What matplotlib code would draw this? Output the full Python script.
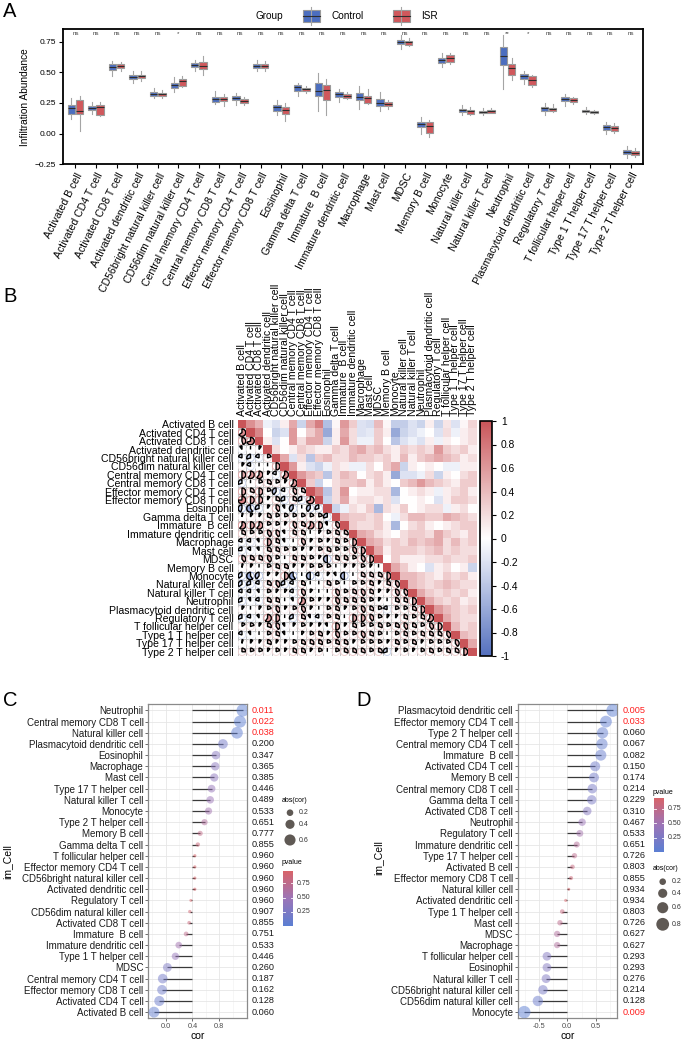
import numpy as np
import matplotlib.pyplot as plt
from matplotlib.patches import Rectangle, Wedge, Circle
from matplotlib.colors import LinearSegmentedColormap, Normalize
from matplotlib.cm import ScalarMappable
import matplotlib.transforms as mtrans

plt.rcParams['font.family'] = ['Liberation Sans', 'DejaVu Sans']

W, H = 685, 1040

cells = ["Activated B cell", "Activated CD4 T cell", "Activated CD8 T cell", "Activated dendritic cell",
         "CD56bright natural killer cell", "CD56dim natural killer cell", "Central memory CD4 T cell",
         "Central memory CD8 T cell", "Effector memory CD4 T cell", "Effector memory CD8 T cell",
         "Eosinophil", "Gamma delta T cell", "Immature  B cell", "Immature dendritic cell", "Macrophage",
         "Mast cell", "MDSC", "Memory B cell", "Monocyte", "Natural killer cell", "Natural killer T cell",
         "Neutrophil", "Plasmacytoid dendritic cell", "Regulatory T cell", "T follicular helper cell",
         "Type 1 T helper cell", "Type 17 T helper cell", "Type 2 T helper cell"]

# ---- panel A: box statistics per cell type ----
ctrl_lo = [0.117, 0.16, 0.47, 0.416, 0.29, 0.34, 0.51, 0.24, 0.23, 0.51, 0.15, 0.31, 0.185, 0.26,
           0.2, 0.185, 0.693, 0.0, 0.546, 0.152, 0.152, 0.367, 0.402, 0.152, 0.228, 0.16, -0.003, -0.2]
ctrl_q1 = [0.158, 0.193, 0.52, 0.443, 0.307, 0.37, 0.546, 0.26, 0.27, 0.538, 0.188, 0.35, 0.307, 0.302,
           0.274, 0.226, 0.727, 0.054, 0.576, 0.177, 0.166, 0.562, 0.448, 0.188, 0.264, 0.177, 0.033, -0.166]
ctrl_med = [0.207, 0.21, 0.546, 0.465, 0.323, 0.394, 0.56, 0.283, 0.29, 0.554, 0.215, 0.378, 0.35, 0.32,
            0.30, 0.253, 0.745, 0.076, 0.6, 0.193, 0.177, 0.636, 0.467, 0.207, 0.283, 0.188, 0.054, -0.147]
ctrl_q3 = [0.234, 0.225, 0.565, 0.478, 0.34, 0.416, 0.573, 0.296, 0.31, 0.57, 0.231, 0.394, 0.41, 0.337,
           0.33, 0.28, 0.76, 0.095, 0.62, 0.204, 0.188, 0.704, 0.486, 0.22, 0.3, 0.196, 0.068, -0.133]
ctrl_hi = [0.293, 0.255, 0.595, 0.513, 0.37, 0.465, 0.6, 0.348, 0.33, 0.6, 0.275, 0.41, 0.49, 0.36,
           0.39, 0.337, 0.8, 0.133, 0.657, 0.23, 0.212, 0.8, 0.513, 0.25, 0.32, 0.215, 0.098, -0.098]

isr_lo = [0.02, 0.145, 0.51, 0.43, 0.293, 0.378, 0.48, 0.228, 0.23, 0.51, 0.106, 0.33, 0.152, 0.28,
          0.24, 0.2, 0.71, -0.027, 0.565, 0.152, 0.166, 0.435, 0.378, 0.174, 0.24, 0.16, 0.008, -0.188]
isr_q1 = [0.158, 0.152, 0.538, 0.45, 0.307, 0.39, 0.527, 0.264, 0.247, 0.538, 0.163, 0.348, 0.275, 0.293,
          0.253, 0.226, 0.723, 0.008, 0.587, 0.163, 0.171, 0.48, 0.394, 0.182, 0.258, 0.166, 0.024, -0.177]
isr_med = [0.185, 0.215, 0.554, 0.467, 0.32, 0.432, 0.555, 0.285, 0.265, 0.554, 0.19, 0.367, 0.356, 0.31,
           0.288, 0.242, 0.745, 0.06, 0.615, 0.185, 0.185, 0.533, 0.44, 0.2, 0.274, 0.177, 0.043, -0.16]
isr_q3 = [0.275, 0.234, 0.565, 0.48, 0.33, 0.446, 0.58, 0.3, 0.283, 0.565, 0.217, 0.375, 0.40, 0.32,
          0.31, 0.258, 0.755, 0.095, 0.64, 0.196, 0.196, 0.568, 0.467, 0.212, 0.288, 0.185, 0.065, -0.139]
isr_hi = [0.31, 0.26, 0.587, 0.51, 0.356, 0.467, 0.633, 0.323, 0.296, 0.59, 0.247, 0.389, 0.445, 0.342,
          0.36, 0.275, 0.78, 0.11, 0.66, 0.215, 0.207, 0.62, 0.478, 0.24, 0.3, 0.19, 0.09, -0.12]

sig = ["ns"] * 28
sig[5] = "*"
sig[21] = "**"
sig[22] = "*"

# ---- panel B: correlation matrix, upper triangle rows ----
corr_upper = [
    [0.65, 0.45, -0.1, -0.2, 0.1, 0.5, -0.3, 0.5, 0.75, -0.45, 0.05, 0.6, 0.3, -0.2, -0.25, 0.4, 0.05,
     -0.35, -0.35, -0.2, -0.3, 0.1, -0.3, 0.15, -0.2, 0.05, 0.25],
    [0.7, 0.0, -0.3, -0.2, 0.6, 0.0, 0.3, 0.5, -0.6, 0.1, 0.5, 0.2, -0.2, -0.15, 0.3, 0.1, -0.6, -0.3,
     -0.2, -0.1, 0.0, -0.2, 0.2, -0.1, 0.1, 0.2],
    [0.1, -0.2, 0.0, 0.6, 0.2, 0.5, 0.5, -0.3, 0.1, 0.6, 0.2, -0.1, -0.1, 0.3, 0.0, -0.4, -0.2, -0.1,
     -0.2, 0.1, -0.1, 0.1, 0.0, 0.1, 0.2],
    [0.2, 0.0, 0.1, 0.3, 0.2, 0.1, 0.1, 0.3, 0.2, 0.4, 0.5, 0.3, 0.4, 0.2, 0.1, 0.3, 0.2, 0.3, 0.2, 0.6,
     0.3, 0.2, 0.3, 0.1],
    [0.5, -0.2, 0.2, -0.4, 0.3, 0.4, 0.2, 0.2, 0.4, 0.3, 0.3, 0.2, 0.3, 0.1, 0.4, 0.1, 0.3, 0.4, 0.5,
     0.4, 0.3, 0.1, 0.2],
    [0.6, 0.1, -0.2, -0.3, -0.1, 0.2, 0.1, -0.1, -0.1, 0.2, 0.0, 0.3, 0.5, -0.3, 0.1, 0.0, 0.1, 0.0,
     -0.1, -0.1, 0.1, 0.1],
    [0.6, 0.4, 0.3, -0.4, 0.2, 0.4, 0.3, 0.0, 0.2, 0.3, 0.1, -0.6, -0.2, -0.2, -0.1, 0.2, -0.3, 0.1,
     0.0, 0.2, 0.3],
    [0.3, -0.3, 0.0, 0.2, 0.3, 0.3, 0.4, 0.1, 0.3, 0.1, 0.0, 0.3, 0.4, 0.6, 0.4, 0.3, 0.2, 0.1, 0.3, 0.3],
    [0.7, -0.4, 0.2, 0.6, 0.0, 0.1, 0.1, 0.2, 0.2, -0.5, 0.0, 0.1, 0.2, 0.1, -0.1, 0.1, 0.2, 0.3, 0.1],
    [-0.3, 0.2, 0.5, 0.1, 0.2, 0.2, 0.1, 0.2, -0.2, 0.0, 0.0, 0.1, 0.0, -0.2, 0.1, 0.3, 0.3, 0.2],
    [-0.3, -0.1, 0.2, 0.1, 0.3, -0.5, 0.2, 0.1, 0.3, 0.0, 0.1, 0.2, 0.2, -0.1, 0.1, 0.2, 0.0],
    [0.4, 0.3, 0.3, 0.2, 0.3, 0.0, -0.1, 0.2, 0.4, 0.4, 0.3, 0.3, 0.5, 0.4, 0.3, 0.2],
    [0.3, 0.2, 0.2, 0.3, 0.1, -0.5, 0.0, 0.2, 0.3, 0.1, 0.0, 0.1, 0.2, 0.3, 0.3],
    [0.5, 0.4, 0.2, 0.1, 0.0, 0.2, 0.3, 0.3, 0.2, 0.5, 0.3, 0.2, 0.1, 0.3],
    [0.5, 0.4, 0.2, 0.3, 0.2, 0.4, 0.3, 0.4, 0.5, 0.2, 0.4, 0.2, 0.3],
    [0.5, 0.1, 0.3, 0.3, 0.3, 0.2, 0.3, 0.4, 0.2, 0.3, 0.2, 0.2],
    [0.0, 0.3, 0.1, 0.1, 0.1, 0.2, 0.2, 0.3, 0.2, 0.2, 0.3],
    [0.5, 0.3, 0.1, 0.0, -0.2, 0.1, 0.2, 0.0, 0.1, -0.3],
    [0.4, 0.4, 0.3, 0.2, 0.1, 0.3, 0.2, 0.3, 0.1],
    [0.4, 0.3, 0.2, 0.3, 0.4, 0.3, 0.2, 0.2],
    [0.5, 0.3, 0.2, 0.3, 0.2, 0.3, 0.1],
    [0.5, 0.3, 0.2, 0.3, 0.1, 0.2],
    [0.6, 0.4, 0.3, 0.2, 0.3],
    [0.5, 0.3, 0.2, 0.2],
    [0.4, 0.2, 0.3],
    [0.4, 0.3],
    [0.5],
]

# ---- panel C: lollipop (x as read on the printed axis; stems start at 0.4) ----
c_cells = ["Neutrophil", "Central memory CD8 T cell", "Natural killer cell", "Plasmacytoid dendritic cell",
           "Eosinophil", "Macrophage", "Mast cell", "Type 17 T helper cell", "Natural killer T cell",
           "Monocyte", "Type 2 T helper cell", "Memory B cell", "Gamma delta T cell",
           "T follicular helper cell", "Effector memory CD4 T cell", "CD56bright natural killer cell",
           "Activated dendritic cell", "Regulatory T cell", "CD56dim natural killer cell",
           "Activated CD8 T cell", "Immature  B cell", "Immature dendritic cell", "Type 1 T helper cell",
           "MDSC", "Central memory CD4 T cell", "Effector memory CD8 T cell", "Activated CD4 T cell",
           "Activated B cell"]
c_x = [1.15, 1.11, 1.065, 0.855, 0.75, 0.74, 0.725, 0.685, 0.665, 0.64, 0.58, 0.515, 0.48, 0.435,
       0.435, 0.435, 0.435, 0.375, 0.36, 0.35, 0.305, 0.195, 0.145, 0.025, -0.045, -0.055, -0.095, -0.175]
c_p = [0.011, 0.022, 0.038, 0.200, 0.347, 0.365, 0.385, 0.446, 0.489, 0.533, 0.651, 0.777, 0.855, 0.960,
       0.960, 0.960, 0.960, 0.960, 0.907, 0.855, 0.751, 0.533, 0.446, 0.260, 0.187, 0.162, 0.128, 0.060]
c_base = 0.4

# ---- panel D ----
d_cells = ["Plasmacytoid dendritic cell", "Effector memory CD4 T cell", "Type 2 T helper cell",
           "Central memory CD4 T cell", "Immature  B cell", "Activated CD4 T cell", "Memory B cell",
           "Central memory CD8 T cell", "Gamma delta T cell", "Activated CD8 T cell", "Neutrophil",
           "Regulatory T cell", "Immature dendritic cell", "Type 17 T helper cell", "Activated B cell",
           "Effector memory CD8 T cell", "Natural killer cell", "Activated dendritic cell",
           "Type 1 T helper cell", "Mast cell", "MDSC", "Macrophage", "T follicular helper cell",
           "Eosinophil", "Natural killer T cell", "CD56bright natural killer cell",
           "CD56dim natural killer cell", "Monocyte"]
d_x = [0.80, 0.68, 0.62, 0.61, 0.59, 0.49, 0.47, 0.44, 0.43, 0.35, 0.26, 0.22, 0.165, 0.125, 0.09,
       0.065, 0.025, -0.03, -0.09, -0.13, -0.18, -0.18, -0.36, -0.36, -0.375, -0.43, -0.52, -0.76]
d_p = [0.005, 0.033, 0.060, 0.067, 0.082, 0.150, 0.174, 0.214, 0.229, 0.310, 0.467, 0.533, 0.651, 0.726,
       0.803, 0.855, 0.934, 0.934, 0.803, 0.726, 0.627, 0.627, 0.293, 0.293, 0.276, 0.214, 0.128, 0.009]
d_base = 0.0

BLUE = '#4C6EBF'
RED = '#D0585C'
corr_cmap = LinearSegmentedColormap.from_list('corr', ['#5470BE', '#FFFFFF', '#C95559'])
p_cmap = LinearSegmentedColormap.from_list('pv', ['#5C7FD3', '#9C75B8', '#D8646A'])


def px_axes(l, t, r, b):
    return fig.add_axes([l / W, 1 - b / H, (r - l) / W, (b - t) / H])


def dot_px(v):
    return np.sqrt(3.5 + 200 * np.abs(v))


fig = plt.figure(figsize=(W / 100, H / 100), dpi=100)

# ================= A =================
axA = px_axes(62.7, 29.3, 643.3, 164.3)
pos = np.arange(len(cells))


def make_stats(lo, q1, med, q3, hi):
    return [dict(whislo=a, q1=b, med=c, q3=d, whishi=e, fliers=[])
            for a, b, c, d, e in zip(lo, q1, med, q3, hi)]


for stats, off, colr in [(make_stats(ctrl_lo, ctrl_q1, ctrl_med, ctrl_q3, ctrl_hi), -0.2, BLUE),
                         (make_stats(isr_lo, isr_q1, isr_med, isr_q3, isr_hi), 0.2, RED)]:
    axA.bxp(stats, positions=pos + off, widths=0.36, patch_artist=True, showfliers=False,
            showcaps=False,
            boxprops=dict(facecolor=colr, edgecolor='#9A9A9A', linewidth=0.8),
            medianprops=dict(color='#2E2E2E', linewidth=0.8),
            whiskerprops=dict(color='#A5A5A5', linewidth=0.8))
for i, s in enumerate(sig):
    axA.text(i, 0.815, s, ha='center', va='center', fontsize=4.5, color='#444444')
axA.set_xlim(-0.62, 27.6)
axA.set_ylim(-0.25, 0.85)
axA.set_yticks([-0.25, 0, 0.25, 0.5, 0.75])
axA.set_yticklabels(['\u22120.25', '0.00', '0.25', '0.50', '0.75'], fontsize=6)
axA.set_xticks(pos)
axA.set_xticklabels(cells, rotation=63, ha='right', rotation_mode='anchor', fontsize=7.6)
axA.tick_params(length=3, width=0.8, pad=2)
axA.set_ylabel('Infiltration Abundance', fontsize=7.3, labelpad=3)
for sp in axA.spines.values():
    sp.set_linewidth(1.3)

# ================= B =================
M = np.eye(len(cells))
for i, vals in enumerate(corr_upper):
    M[i, i + 1:] = vals
    M[i + 1:, i] = vals
cnorm = Normalize(-1, 1)
axB = px_axes(237.7, 420, 476.7, 656)
n = len(cells)
for i in range(n):
    for j in range(n):
        r = M[i, j]
        colr = corr_cmap(cnorm(r))
        if j >= i:
            axB.add_patch(Rectangle((j, i), 1, 1, facecolor=colr, edgecolor='none'))
        else:
            axB.add_patch(Rectangle((j, i), 1, 1, facecolor='white', edgecolor='#BDBDBD', lw=0.6))
            axB.add_patch(Circle((j + 0.5, i + 0.5), 0.44, fill=False, edgecolor=colr, lw=0.7))
            ang = 360 * abs(r)
            if r >= 0:
                wd = Wedge((j + 0.5, i + 0.5), 0.44, -90, -90 + ang)
            else:
                wd = Wedge((j + 0.5, i + 0.5), 0.44, -90 - ang, -90)
            wd.set_facecolor(colr)
            wd.set_edgecolor('black')
            wd.set_linewidth(1.0)
            axB.add_patch(wd)
axB.set_xlim(0, n)
axB.set_ylim(n, 0)
axB.set_xticks(np.arange(n) + 0.5)
axB.set_yticks(np.arange(n) + 0.5)
axB.xaxis.tick_top()
axB.set_xticklabels(cells, rotation=90, fontsize=7.6)
axB.set_yticklabels(cells, fontsize=7.6)
axB.tick_params(length=0, pad=3)
for sp in axB.spines.values():
    sp.set_visible(False)

cax = px_axes(480, 421, 492, 656)
cb = fig.colorbar(ScalarMappable(norm=cnorm, cmap=corr_cmap), cax=cax)
tks = np.round(np.arange(-1, 1.01, 0.2), 1)
cb.set_ticks(tks)
cb.set_ticklabels(['%g' % t if t != 0 else '0' for t in tks])
cb.ax.tick_params(labelsize=7.4, length=3, width=0.8)
cb.outline.set_linewidth(1.2)


# ================= C / D =================
def lollipop(ax, names, xs, base, ps, xticks, xlim, minor):
    y = np.arange(len(names))
    xs = np.array(xs)
    ax.set_axisbelow(True)
    ax.hlines(y, base, xs, color='#3A3A3A', lw=0.9, zorder=2)
    s = (dot_px(xs - base) * 0.72) ** 2
    ax.scatter(xs, y, s=s, c=ps, cmap=p_cmap, norm=Normalize(min(ps), max(ps)), alpha=0.5,
               edgecolors='none', zorder=3)
    ax.set_yticks(y)
    ax.set_yticklabels(names, fontsize=7, color='#1A1A1A')
    ax.set_xticks(xticks)
    ax.set_xticklabels(['%.1f' % t for t in xticks], fontsize=5.3, color='#4D4D4D')
    ax.set_xticks(minor, minor=True)
    ax.grid(True, which='major', color='#E6E6E6', lw=0.6)
    ax.grid(True, which='minor', axis='x', color='#F0F0F0', lw=0.4)
    ax.tick_params(which='major', length=2, width=0.6, color='#555555', pad=1.5)
    ax.tick_params(which='minor', length=0)
    ax.set_xlim(*xlim)
    ax.set_ylim(len(names) - 0.45, -0.55)
    for sp in ax.spines.values():
        sp.set_color('#8A8A8A')
        sp.set_linewidth(0.9)
    tr = mtrans.blended_transform_factory(ax.transAxes, ax.transData)
    for k, p in enumerate(ps):
        ax.text(1.054, k, '%.3f' % p, transform=tr, ha='left', va='center', fontsize=6.6,
                color='#FF1F1F' if p < 0.05 else '#1A1A1A')


axC = px_axes(148.3, 704.3, 246.7, 1018.3)
lollipop(axC, c_cells, c_x, c_base, c_p, [0.0, 0.4, 0.8], (-0.26, 1.21), [-0.2, 0.2, 0.6, 1.0])
axD = px_axes(517.7, 704.3, 617.3, 1018.3)
lollipop(axD, d_cells, d_x, d_base, d_p, [-0.5, 0.0, 0.5], (-0.875, 0.88), [-0.75, -0.25, 0.25, 0.75])

# ================= overlay: labels and legends =================
ov = fig.add_axes([0, 0, 1, 1])
ov.set_xlim(0, W)
ov.set_ylim(H, 0)
ov.axis('off')

for lab, x, y in [('A', 3, 2), ('B', 3, 287), ('C', 3, 691), ('D', 356, 691)]:
    ov.text(x, y, lab, fontsize=14.5, ha='left', va='top')

# group legend of panel A
ov.text(256, 16, 'Group', fontsize=7.2, ha='left', va='center')
for x0, colr, lab in [(303, BLUE, 'Control'), (393, RED, 'ISR')]:
    ov.plot([x0 + 8.5, x0 + 8.5], [6.7, 25.3], color='#A5A5A5', lw=0.8)
    ov.add_patch(Rectangle((x0, 10.3), 17.5, 12, facecolor=colr, edgecolor='#9A9A9A', lw=0.8))
    ov.plot([x0, x0 + 17.5], [16.3, 16.3], color='#2E2E2E', lw=0.8)
    ov.text(x0 + 28.5, 16, lab, fontsize=7.2, ha='left', va='center')

# y / x titles of C and D
for x, y in [(7, 862), (378, 858)]:
    ov.text(x, y, 'im_Cell', rotation=90, fontsize=7.5, ha='center', va='center')
for x in [197.5, 567.5]:
    ov.text(x, 1036, 'cor', fontsize=7.5, ha='center', va='center')


def p_bar(x0, x1, y0, y1, pmin, pmax, tx, ty):
    ov.text(tx, ty, 'pvalue', fontsize=5, ha='left', va='center')
    grad = np.linspace(pmax, pmin, 100).reshape(-1, 1)
    ov.imshow(grad, cmap=p_cmap, norm=Normalize(pmin, pmax), extent=[x0, x1, y1, y0],
              aspect='auto', zorder=2)
    for v in [0.25, 0.5, 0.75]:
        yy = y1 - (v - pmin) / (pmax - pmin) * (y1 - y0)
        ov.plot([x0, x0 + 2], [yy, yy], color='white', lw=0.6, zorder=3)
        ov.plot([x1 - 2, x1], [yy, yy], color='white', lw=0.6, zorder=3)
        ov.text(x1 + 4, yy, '%.2f' % v, fontsize=5, ha='left', va='center', color='#333333')


def size_legend(tx, ty, xdot, vals, ys):
    ov.text(tx, ty, 'abs(cor)', fontsize=5, ha='left', va='center')
    for v, yy in zip(vals, ys):
        ov.scatter([xdot], [yy], s=(dot_px(v) * 0.72) ** 2, color='#5F5954', edgecolors='none',
                   zorder=3)
        ov.text(xdot + 9, yy, '%.1f' % v, fontsize=5, ha='left', va='center', color='#333333')


size_legend(282, 800, 290, [0.2, 0.4, 0.6], [812.7, 824.3, 840])
p_bar(282.7, 292.7, 871, 925.7, min(c_p), max(c_p), 282, 863)
p_bar(654, 664, 798, 851.7, min(d_p), max(d_p), 653, 792.7)
size_legend(653, 869, 662.7, [0.2, 0.4, 0.6, 0.8], [881.7, 893.3, 907.7, 924.3])

fig.savefig('out.png', dpi=100)
